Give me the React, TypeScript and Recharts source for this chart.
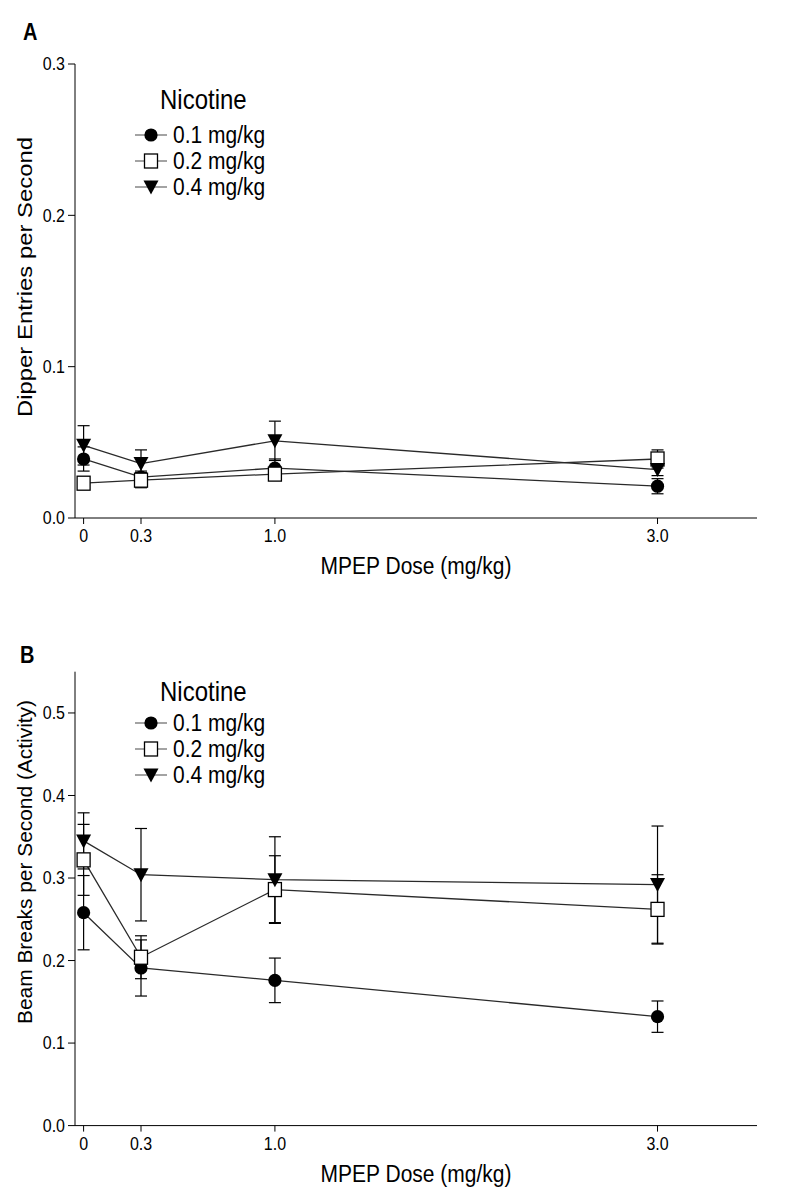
import { LineChart, Line, XAxis, YAxis, ErrorBar, Legend } from 'recharts';

// MPEP doses (x) and their tick labels
const doses = [0, 0.3, 1.0, 3.0];
const doseTickLabels = ['0', '0.3', '1.0', '3.0'];

// nicotine groups
const seriesNames = ['0.1 mg/kg', '0.2 mg/kg', '0.4 mg/kg'];
const markerKinds = ['circle', 'square', 'triangle'];

// Panel A - dipper entries per second (mean, SEM)
const dipper01 = [0.039, 0.027, 0.033, 0.021];
const dipper01Err = [0.008, 0.004, 0.006, 0.005];
const dipper02 = [0.023, 0.025, 0.029, 0.039];
const dipper02Err = [0.004, 0.005, 0.004, 0.006];
const dipper04 = [0.048, 0.036, 0.051, 0.032];
const dipper04Err = [0.013, 0.009, 0.013, 0.004];
const dipperTicks = [0, 0.1, 0.2, 0.3];

// Panel B - beam breaks per second (mean, SEM)
const beam01 = [0.258, 0.191, 0.176, 0.132];
const beam01Err = [0.045, 0.034, 0.027, 0.019];
const beam02 = [0.322, 0.204, 0.286, 0.262];
const beam02Err = [0.043, 0.026, 0.041, 0.042];
const beam04 = [0.345, 0.304, 0.298, 0.292];
const beam04Err = [0.034, 0.056, 0.052, 0.071];
const beamTicks = [0, 0.1, 0.2, 0.3, 0.4, 0.5];

function buildRows(series: number[][], errors: number[][]) {
  return doses.map((d, i) => {
    const row: Record<string, number> = { dose: d };
    series.forEach((s, k) => {
      row[`s${k}`] = s[i];
      row[`e${k}`] = errors[k][i];
    });
    return row;
  });
}

const dipperRows = buildRows([dipper01, dipper02, dipper04], [dipper01Err, dipper02Err, dipper04Err]);
const beamRows = buildRows([beam01, beam02, beam04], [beam01Err, beam02Err, beam04Err]);

const FONT = '"Liberation Sans", Arial, Helvetica, sans-serif';
const STRETCH = 1.15; // the figure's text is slightly condensed/tall

function Marker({ kind, cx, cy }: { kind: string; cx: number; cy: number }) {
  if (kind === 'circle') return <circle cx={cx} cy={cy} r={6.6} fill="#000" />;
  if (kind === 'square')
    return <rect x={cx - 6.5} y={cy - 7} width={13} height={14} fill="#fff" stroke="#000" strokeWidth={1.3} />;
  return <polygon points={`${cx - 7.5},${cy - 6.5} ${cx + 7.5},${cy - 6.5} ${cx},${cy + 7.5}`} fill="#000" />;
}

// text drawn at (x, y) with a vertical stretch about its own centre line
function TallText({ x, y, anchor, size, weight, children }: any) {
  return (
    <g transform={`translate(${x},${y}) scale(1,${STRETCH})`}>
      <text x={0} y={0} textAnchor={anchor} dominantBaseline="central" fontSize={size} fontWeight={weight} fill="#000" fontFamily={FONT}>
        {children}
      </text>
    </g>
  );
}

const xTick = (props: any) => {
  const { x, y, payload } = props;
  return <TallText x={x} y={y + 9} anchor="middle" size={16}>{doseTickLabels[doses.indexOf(payload.value)]}</TallText>;
};

const yTick = (props: any) => {
  const { x, y, payload } = props;
  return <TallText x={x} y={y} anchor="end" size={16}>{Number(payload.value).toFixed(1)}</TallText>;
};

interface PanelProps {
  rows: Record<string, number>[];
  height: number;
  top: number;
  xAxisHeight: number;
  yDomain: [number, number];
  yTicks: number[];
  yTitle: string;
  yTitleY: number;
  yTitleLen: number;
  letter: string;
  letterX: number;
  letterY: number;
  legendTop: number;
  legendRow0: number;
}

function Panel(p: PanelProps) {
  const legend = () => (
    <svg width={160} height={130} style={{ overflow: 'visible' }}>
      <TallText x={30} y={24} anchor="start" size={24}>Nicotine</TallText>
      {seriesNames.map((name, k) => {
        const y = p.legendRow0 + k * 26;
        return (
          <g key={name}>
            <line x1={5} x2={37} y1={y} y2={y} stroke="#666" strokeWidth={1.2} />
            <Marker kind={markerKinds[k]} cx={21} cy={y} />
            <TallText x={43} y={y} anchor="start" size={21}>{name}</TallText>
          </g>
        );
      })}
    </svg>
  );

  return (
    <LineChart
      width={800}
      height={p.height}
      data={p.rows}
      margin={{ top: p.top, right: 43, bottom: 0, left: 0 }}
    >
      <XAxis
        dataKey="dose"
        type="number"
        domain={[-0.045, 3.52]}
        ticks={doses}
        height={p.xAxisHeight}
        axisLine={{ stroke: '#000' }}
        tickLine={{ stroke: '#000' }}
        tickSize={6}
        tickMargin={3}
        tick={xTick}
        allowDataOverflow
        label={() => (
          <TallText x={416} y={p.top + 454 + 48} anchor="middle" size={21}>MPEP Dose (mg/kg)</TallText>
        )}
      />
      <YAxis
        type="number"
        domain={p.yDomain}
        ticks={p.yTicks}
        width={75}
        axisLine={{ stroke: '#000' }}
        tickLine={{ stroke: '#000' }}
        tickSize={7}
        tickMargin={3}
        tick={yTick}
        allowDataOverflow
        label={() => (
          <g>
            <TallText x={p.letterX} y={p.letterY} anchor="start" size={20} weight="bold">{p.letter}</TallText>
            <text
              transform={`translate(25,${p.yTitleY}) rotate(-90)`}
              textAnchor="middle"
              dominantBaseline="central"
              fontSize={20}
              fontFamily={FONT}
              textLength={p.yTitleLen}
              lengthAdjust="spacingAndGlyphs"
              fill="#000"
            >
              {p.yTitle}
            </text>
          </g>
        )}
      />
      <Legend
        layout="vertical"
        align="center"
        verticalAlign="middle"
        content={legend}
        wrapperStyle={{ left: 130, top: p.legendTop, width: 160, height: 130 }}
      />
      {seriesNames.map((name, k) => (
        <Line
          key={name}
          name={name}
          dataKey={`s${k}`}
          stroke="#2a2a2a"
          strokeWidth={1.3}
          isAnimationActive={false}
          dot={(d: any) => <Marker key={`${k}-${d.index}`} kind={markerKinds[k]} cx={d.cx} cy={d.cy} />}
          activeDot={false}
        >
          <ErrorBar dataKey={`e${k}`} direction="y" width={6} stroke="#000" strokeWidth={1.2} isAnimationActive={false} />
        </Line>
      ))}
    </LineChart>
  );
}

export default function App() {
  return (
    <div style={{ position: 'absolute', left: 0, top: 0, width: 800, height: 1199, background: '#fff', fontFamily: FONT }}>
      <div style={{ position: 'absolute', left: 0, top: 0 }}>
        <Panel
          rows={dipperRows}
          height={600}
          top={64}
          xAxisHeight={82}
          yDomain={[0, 0.3]}
          yTicks={dipperTicks}
          yTitle="Dipper Entries per Second"
          yTitleY={277}
          yTitleLen={280}
          letter="A"
          letterX={23}
          letterY={32}
          legendTop={75}
          legendRow0={60}
        />
      </div>
      <div style={{ position: 'absolute', left: 0, top: 600 }}>
        <Panel
          rows={beamRows}
          height={599}
          top={71.7}
          xAxisHeight={73.4}
          yDomain={[0, 0.55]}
          yTicks={beamTicks}
          yTitle="Beam Breaks per Second (Activity)"
          yTitleY={262}
          yTitleLen={324}
          letter="B"
          letterX={20}
          letterY={55}
          legendTop={67}
          legendRow0={56}
        />
      </div>
    </div>
  );
}
